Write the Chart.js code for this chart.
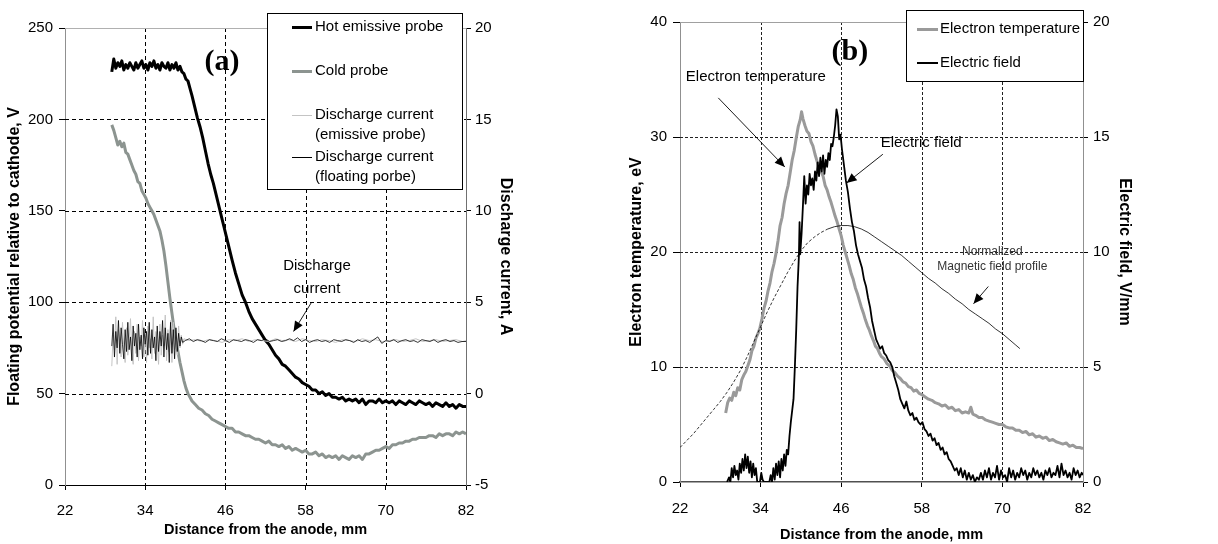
<!DOCTYPE html>
<html><head><meta charset="utf-8">
<script src="https://cdn.jsdelivr.net/npm/chart.js@4.4.1/dist/chart.umd.min.js"></script>
<style>
html,body{margin:0;padding:0;background:#fff;}
#wrap{position:relative;width:1218px;height:544px;overflow:hidden;}
.c{position:absolute;top:0;width:609px;height:544px;}
</style></head><body>
<div id="wrap">
<div class="c" style="left:0"><canvas id="ca" width="609" height="544"></canvas></div>
<div class="c" style="left:609px"><canvas id="cb" width="609" height="544"></canvas></div>
</div>
<script>
// ---------- tick labels ----------
const distTicks = [22,34,46,58,70,82];
const potentialTicks = [0,50,100,150,200,250];
const currentTicks = [-5,0,5,10,15,20];
const tempTicks = [0,10,20,30,40];
const fieldTicks = [0,5,10,15,20];

// ---------- panel (a): floating potential, V ----------
const hotProbe = [[29.0,226],[29.3,233],[29.6,228],[29.9,231],[30.2,229],[30.5,232],[30.8,227],[31.1,230],[31.4,228],[31.7,231],[32.0,229],[32.3,227],[32.6,231],[32.9,228],[33.2,230],[33.5,232],[33.8,228],[34.1,230],[34.4,227],[34.7,231],[35.0,229],[35.3,232],[35.6,228],[35.9,230],[36.2,227],[36.5,231],[36.8,229],[37.1,228],[37.4,231],[37.7,227],[38.0,230],[38.3,228],[38.6,231],[38.9,227],[39.2,229],[39.5,226],[39.8,225],[40.1,222],[40.4,221],[40.7,217],[41.0,213],
[41.4,207],[41.8,201],[42.2,196],[42.6,190],[43.0,183],[43.4,176],[43.8,170],[44.2,165],[44.6,159],[45.0,153],[45.4,147],[45.8,141],[46.2,135],[46.6,129],[47.0,123],
[47.5,116],[48.0,110],[48.5,104],[49.0,100],[49.5,95],[50.0,91],[50.5,88],[51.0,85],[51.5,82],[52.0,79],[52.5,77],[53.0,74],[53.5,71],[54.0,69],[54.5,66],[55.0,65],[55.5,63],[56.0,61],[56.5,59],[57.0,58],[57.5,56],[58.0,55],[58.5,54],[59.0,52],[59.5,52],[60.0,50],[60.5,51],[61.0,49],[61.5,50],[62.0,48],[62.5,48],[63.0,47],[63.5,48],[64.0,46],[64.5,47],[65.0,46],[65.5,47],[66.0,45],[66.5,47],[67.0,44],[67.5,46],[68.0,46],[68.5,45],[69.0,47],[69.5,45],[70.0,46],[70.5,45],[71.0,46],[71.5,44],[72.0,46],[72.5,45],[73.0,44],[73.5,46],[74.0,45],[74.5,44],[75.0,46],[75.5,45],[76.0,44],[76.5,45],[77.0,43],[77.5,45],[78.0,44],[78.5,43],[79.0,45],[79.5,43],[80.0,44],[80.5,42],[81.0,44],[81.5,43],[82.0,43]];

const coldProbe = [[29.0,197],[29.3,194],[29.6,190],[29.9,186],[30.2,188],[30.5,185],[30.8,187],[31.1,182],[31.4,181],[31.7,178],[32.0,175],[32.3,172],[32.6,170],[32.9,166],[33.2,165],[33.5,161],[33.8,159],[34.1,157],[34.4,154],[34.7,152],[35.0,150],[35.3,148],[35.6,145],[35.9,142],[36.2,139],[36.5,134],[36.8,128],[37.1,120],[37.4,111],[37.7,102],[38.0,94],[38.3,86],[38.6,79],[38.9,73],[39.2,67],[39.5,62],[39.8,57],[40.1,53],[40.4,50],[40.7,48],[41.0,46],
[41.5,44],[42.0,42],[42.5,41],[43.0,39],[43.5,38],[44.0,36],[44.5,35],[45.0,34],[45.5,33],[46.0,32],[46.5,31],[47.0,31],[47.5,29],[48.0,29],[48.5,28],[49.0,27],[49.5,27],[50.0,26],[50.5,25],[51.0,25],[51.5,24],[52.0,23],[52.5,24],[53.0,22],[53.5,22],[54.0,21],[54.5,22],[55.0,20],[55.5,21],[56.0,19],[56.5,20],[57.0,19],[57.5,18],[58.0,19],[58.5,17],[59.0,17],[59.5,18],[60.0,16],[60.5,17],[61.0,15],[61.5,16],[62.0,15],[62.5,16],[63.0,14],[63.5,16],[64.0,15],[64.5,14],[65.0,16],[65.5,15],[66.0,16],[66.5,14],[67.0,17],[67.5,17],[68.0,18],[68.5,19],[69.0,19],[69.5,20],[70.0,21],[70.5,20],[71.0,22],[71.5,22],[72.0,23],[72.5,23],[73.0,24],[73.5,24],[74.0,25],[74.5,25],[75.0,26],[75.5,26],[76.0,26],[76.5,27],[77.0,27],[77.5,26],[78.0,28],[78.5,27],[79.0,28],[79.5,28],[80.0,27],[80.5,29],[81.0,28],[81.5,29],[82.0,28]];

// discharge current, A (right axis)
const currentEmissive = [[29.0,1.5],[29.2,3.2],[29.4,2.4],[29.6,4.2],[29.8,1.6],[30.0,3.5],[30.2,2.8],[30.4,2.0],[30.6,3.9],[30.8,2.5],[31.0,1.7],[31.2,3.6],[31.4,2.1],[31.6,3.0],[31.8,4.1],[32.0,2.3],[32.2,1.6],[32.4,3.4],[32.6,2.2],[32.8,3.8],[33.0,1.8],[33.2,3.1],[33.4,2.6],[33.6,4.0],[33.8,2.0],[34.0,3.3],[34.2,1.7],[34.4,3.7],[34.6,2.5],[34.8,3.0],[35.0,1.9],[35.2,4.2],[35.4,2.2],[35.6,3.4],[35.8,2.7],[36.0,1.6],[36.2,3.8],[36.4,2.1],[36.6,3.2],[36.8,2.6],[37.0,4.3],[37.2,1.8],[37.4,3.5],[37.6,2.3],[37.8,4.0],[38.0,1.7],[38.2,3.9],[38.4,2.4],[38.6,3.3],[38.8,2.1],[39.0,3.7],[39.2,2.5],[39.4,3.2],[39.6,2.7],[39.8,3.0],
[40.5,2.9],[41.5,2.95],[42.5,2.85],[43.5,2.95],[44.5,2.9],[45.5,2.8],[46.5,2.95],[47.5,2.9],[48.5,3.0],[49.5,2.85],[50.5,2.95],[51.5,2.9],[52.5,2.85],[53.5,3.0],[54.5,2.9],[55.5,2.95],[56.5,2.85],[57.5,3.0],[58.5,2.9],[59.5,2.85],[60.5,2.95],[61.5,2.9],[62.5,2.8],[63.5,2.95],[64.5,2.9],[65.5,2.85],[66.5,3.0],[67.5,2.9],[68.5,2.95],[69.5,2.85],[70.5,2.9],[71.5,2.95],[72.5,2.85],[73.5,2.9],[74.5,3.0],[75.5,2.85],[76.5,2.9],[77.5,2.95],[78.5,2.85],[79.5,2.9],[80.5,2.95],[81.5,2.85],[82.0,2.9]];

const currentFloating = [[29.0,2.6],[29.2,3.8],[29.4,2.0],[29.6,3.4],[29.8,2.5],[30.0,4.0],[30.2,2.2],[30.4,3.6],[30.6,2.7],[30.8,1.9],[31.0,3.5],[31.2,2.3],[31.4,3.9],[31.6,2.4],[31.8,3.1],[32.0,1.8],[32.2,3.7],[32.4,2.6],[32.6,3.3],[32.8,2.0],[33.0,3.8],[33.2,2.4],[33.4,3.2],[33.6,1.9],[33.8,3.6],[34.0,2.7],[34.2,3.4],[34.4,2.1],[34.6,3.9],[34.8,2.2],[35.0,3.5],[35.2,2.5],[35.4,3.1],[35.6,1.8],[35.8,3.7],[36.0,2.3],[36.2,3.4],[36.4,2.6],[36.6,4.0],[36.8,2.0],[37.0,3.6],[37.2,2.4],[37.4,3.3],[37.6,1.7],[37.8,3.9],[38.0,2.2],[38.2,3.5],[38.4,1.9],[38.6,3.6],[38.8,2.3],[39.0,3.3],[39.2,2.6],[39.4,3.1],[39.6,2.8],
[40.0,2.9],[40.6,3.0],[41.2,2.85],[41.8,2.95],[42.4,2.9],[43.0,2.8],[43.6,2.95],[44.2,2.9],[44.8,2.85],[45.4,3.0],[46.0,2.9],[46.6,2.8],[47.2,2.95],[47.8,2.9],[48.4,2.85],[49.0,2.95],[49.6,2.9],[50.2,2.8],[50.8,2.95],[51.4,2.9],[52.0,3.0],[52.6,2.85],[53.2,2.9],[53.8,2.95],[54.4,2.85],[55.0,2.9],[55.6,3.0],[56.2,2.9],[56.8,3.05],[57.4,2.85],[58.0,2.95],[58.6,2.8],[59.2,2.9],[59.8,2.95],[60.4,2.85],[61.0,2.9],[61.6,2.8],[62.2,2.95],[62.8,2.9],[63.4,2.85],[64.0,2.95],[64.6,2.9],[65.2,2.8],[65.8,2.95],[66.4,2.85],[67.0,2.9],[67.6,2.8],[68.2,2.95],[68.8,3.1],[69.4,2.75],[70.0,2.9],[70.6,2.85],[71.2,2.95],[71.8,2.8],[72.4,2.9],[73.0,2.95],[73.6,2.85],[74.2,2.9],[74.8,2.8],[75.4,2.95],[76.0,2.9],[76.6,2.85],[77.2,2.95],[77.8,2.8],[78.4,2.9],[79.0,2.95],[79.6,2.85],[80.2,2.9],[80.8,2.8],[81.4,2.85],[82.0,2.85]];

// ---------- panel (b) ----------
const electronTemp = [[28.8,6.0],[29.1,6.9],[29.4,7.3],[29.7,7.1],[30.0,7.8],[30.3,7.5],[30.6,8.2],[30.9,8.0],[31.2,8.9],[31.5,9.3],[31.8,9.6],[32.1,10.1],[32.4,10.6],[32.7,11.4],[33.0,11.8],[33.3,12.5],[33.6,12.9],[33.9,13.4],[34.2,14.2],[34.5,15.1],[34.8,15.7],[35.1,16.6],[35.4,17.3],[35.7,18.3],[36.0,19.0],[36.3,19.9],[36.6,21.0],[36.9,22.3],[37.2,23.0],[37.5,24.2],[37.8,25.1],[38.1,25.8],[38.4,26.9],[38.7,28.0],[39.0,28.8],[39.3,29.9],[39.6,30.9],[39.9,31.5],[40.1,32.2],[40.3,31.6],[40.6,31.0],[40.9,30.5],[41.2,30.3],[41.5,29.6],[41.8,29.2],[42.1,28.5],[42.4,27.9],[42.7,27.3],[43.0,27.0],[43.3,26.6],[43.6,25.8],[43.9,25.4],[44.2,24.8],[44.5,24.3],[44.8,23.7],[45.1,23.1],[45.4,22.6],[45.7,22.0],[46.0,21.4],[46.3,20.6],[46.6,20.0],[46.9,19.4],[47.2,18.8],[47.5,18.1],[47.8,17.6],[48.1,16.9],[48.4,16.4],[48.7,15.8],[49.0,15.2],[49.3,14.7],[49.6,14.1],[49.9,13.6],[50.2,13.2],[50.5,12.7],[50.8,12.3],[51.1,11.8],[51.4,11.6],[51.7,11.2],[52.0,10.9],[52.4,10.7],[52.8,10.3],[53.2,10.1],[53.6,9.7],[54.0,9.5],[54.4,9.2],[54.8,9.0],[55.2,8.7],[55.6,8.6],[56.0,8.3],[56.4,8.2],[56.8,7.9],[57.2,8.0],[57.6,7.7],[58.0,7.6],[58.5,7.4],[59.0,7.2],[59.5,7.1],[60.0,6.9],[60.5,6.8],[61.0,6.6],[61.5,6.7],[62.0,6.4],[62.5,6.5],[63.0,6.2],[63.5,6.3],[64.0,6.0],[64.5,6.1],[65.0,6.0],[65.3,6.5],[65.6,5.9],[66.0,5.8],[66.5,5.6],[67.0,5.6],[67.5,5.4],[68.0,5.3],[68.5,5.2],[69.0,5.1],[69.5,5.0],[70.0,5.0],[70.5,4.8],[71.0,4.7],[71.5,4.7],[72.0,4.5],[72.5,4.5],[73.0,4.3],[73.5,4.4],[74.0,4.1],[74.5,4.2],[75.0,3.9],[75.5,4.0],[76.0,3.8],[76.5,3.9],[77.0,3.6],[77.5,3.7],[78.0,3.5],[78.5,3.4],[79.0,3.3],[79.5,3.4],[80.0,3.1],[80.5,3.2],[81.0,3.0],[81.5,3.0],[82.0,2.9]];

const electricField = [[29.0,0],[29.3,0.2],[29.5,0],[29.7,0.6],[29.9,0.2],[30.1,0.7],[30.3,0.3],[30.5,0.5],[30.7,0.1],[30.9,0.8],[31.1,0.4],[31.3,1.0],[31.5,0.5],[31.7,1.2],[31.9,0.6],[32.1,1.1],[32.3,0.4],[32.5,0.9],[32.7,0.2],[32.9,0.8],[33.1,0.3],[33.3,0.6],[33.5,0],[33.9,0],[34.1,0.4],[34.3,0.1],[34.5,0],[35.3,0],[35.5,0.3],[35.7,0],[35.9,0.6],[36.1,0.1],[36.3,0.8],[36.5,0.3],[36.7,0.9],[36.9,0.2],[37.1,1.0],[37.3,0.5],[37.5,1.2],[37.7,0.7],[37.9,1.4],[38.1,1.2],[38.3,2.0],[38.5,2.6],[38.7,3.1],[38.9,3.6],[39.1,5.0],[39.3,6.6],[39.5,8.5],[39.7,9.8],[39.8,11.3],[39.9,9.9],[40.1,10.8],[40.3,12.0],[40.5,13.3],[40.7,12.1],[40.9,12.9],[41.1,12.5],[41.3,13.4],[41.5,12.9],[41.7,13.2],[41.9,12.7],[42.1,13.5],[42.3,13.1],[42.5,13.9],[42.7,13.3],[42.9,14.1],[43.1,13.5],[43.3,14.2],[43.5,13.4],[43.7,14.0],[43.9,13.7],[44.1,14.3],[44.3,14.0],[44.5,14.7],[44.7,14.6],[44.9,15.0],[45.1,15.5],[45.3,16.2],[45.5,15.9],[45.7,14.9],[45.9,15.1],[46.1,14.5],[46.4,13.8],[46.7,13.1],[47.0,12.6],[47.3,11.9],[47.6,11.3],[47.9,10.9],[48.2,10.3],[48.5,9.9],[48.8,9.6],[49.1,9.3],[49.4,8.8],[49.7,8.5],[50.0,8.0],[50.3,7.6],[50.6,7.0],[50.9,6.6],[51.2,6.2],[51.5,6.0],[51.8,5.8],[52.1,5.9],[52.4,5.6],[52.7,5.5],[53.0,5.3],[53.3,5.2],[53.6,5.0],[53.9,4.6],[54.2,4.3],[54.5,4.0],[54.8,3.6],[55.1,3.4],[55.4,3.2],[55.7,3.5],[56.0,3.1],[56.3,2.9],[56.6,3.0],[56.9,2.7],[57.2,2.8],[57.5,2.6],[57.8,2.5],[58.1,2.6],[58.4,2.3],[58.7,2.2],[59.0,2.0],[59.3,2.1],[59.6,1.8],[59.9,1.9],[60.2,1.6],[60.5,1.7],[60.8,1.4],[61.1,1.5],[61.4,1.2],[61.7,1.3],[62.0,1.0],[62.3,0.9],[62.6,0.7],[62.9,0.5],[63.2,0.6],[63.5,0.3],[63.8,0.6],[64.1,0.2],[64.4,0.5],[64.7,0.1],[65.0,0.4],[65.3,0.1],[65.6,0.3],[65.9,0.0],[66.2,0.2],[66.5,0.1],[66.8,0.4],[67.1,0.1],[67.4,0.5],[67.7,0.2],[68.0,0.6],[68.3,0.1],[68.6,0.4],[68.9,0.2],[69.2,0.7],[69.5,0.1],[69.8,0.5],[70.1,0.2],[70.4,0.3],[70.7,0.0],[71.0,0.6],[71.3,0.2],[71.6,0.5],[71.9,0.1],[72.2,0.4],[72.5,0.2],[72.8,0.6],[73.1,0.3],[73.4,0.5],[73.7,0.1],[74.0,0.4],[74.3,0.2],[74.6,0.6],[74.9,0.3],[75.2,0.5],[75.5,0.2],[75.8,0.4],[76.1,0.1],[76.4,0.5],[76.7,0.3],[77.0,0.6],[77.3,0.2],[77.6,0.4],[77.9,0.3],[78.2,0.7],[78.5,0.2],[78.8,0.8],[79.1,0.3],[79.4,0.5],[79.7,0.2],[80.0,0.4],[80.3,0.1],[80.6,0.6],[80.9,0.3],[81.2,0.5],[81.5,0.2],[81.8,0.4],[82.0,0.3]];

// normalized magnetic field profile (in eV axis units)
const magneticProfile = [[22,3.0],[23,3.6],[24,4.2],[25,4.9],[26,5.6],[27,6.3],[28,7.0],[29,7.8],[30,8.7],[31,9.7],[32,10.9],[33,12.2],[34,13.5],[35,14.8],[36,16.0],[37,17.1],[38,18.2],[39,19.2],[40,20.1],[41,20.8],[42,21.3],[43,21.7],[44,22.0],[45,22.2],[46,22.3],[47,22.3],[48,22.2],[49,22.0],[50,21.7],[51,21.3],[52,20.9],[53,20.5],[54,20.1],[55,19.7],[56,19.2],[57,18.7],[58,18.2],[59,17.7],[60,17.3],[61,16.8],[62,16.4],[63,15.9],[64,15.5],[65,15.0],[66,14.6],[67,14.2],[68,13.8],[69,13.3],[70,12.9],[71,12.4],[72,11.9],[72.6,11.6]];

// ---------- helpers ----------
const pts = arr => arr.map(p => ({x:p[0], y:p[1]}));
const FONT = "'Liberation Sans', Arial, sans-serif";
Chart.defaults.font.family = FONT;
Chart.defaults.color = '#000';

const gridPlugin = {
  id:'dashGrid',
  beforeDatasetsDraw(chart, args, o){
    const {ctx, chartArea:a, scales} = chart;
    const xs = scales.x, ys = scales.y;
    ctx.save();
    ctx.lineWidth = 1; ctx.strokeStyle = o.color; ctx.setLineDash(o.dash);
    xs.ticks.forEach(t => {
      if (t.value > xs.min && t.value < xs.max) {
        const px = Math.round(xs.getPixelForValue(t.value)) + 0.5;
        ctx.beginPath(); ctx.moveTo(px, a.top); ctx.lineTo(px, a.bottom); ctx.stroke();
      }
    });
    ys.ticks.forEach(t => {
      if (t.value > ys.min && t.value < ys.max) {
        const py = Math.round(ys.getPixelForValue(t.value)) + 0.5;
        ctx.beginPath(); ctx.moveTo(a.left, py); ctx.lineTo(a.right, py); ctx.stroke();
      }
    });
    ctx.setLineDash([]);
    ctx.strokeStyle = o.topColor;
    const pt = Math.round(ys.getPixelForValue(ys.max)) + 0.5;
    ctx.beginPath(); ctx.moveTo(a.left, pt); ctx.lineTo(a.right, pt); ctx.stroke();
    ctx.restore();
  }
};

function arrow(ctx, x1, y1, x2, y2, h){
  ctx.beginPath(); ctx.moveTo(x1,y1); ctx.lineTo(x2,y2); ctx.stroke();
  const ang = Math.atan2(y2-y1, x2-x1), c = Math.cos(ang), s = Math.sin(ang), w = h*0.45;
  ctx.beginPath(); ctx.moveTo(x2,y2);
  ctx.lineTo(x2 - h*c + w*s, y2 - h*s - w*c);
  ctx.lineTo(x2 - h*c - w*s, y2 - h*s + w*c);
  ctx.closePath(); ctx.fill();
}

const notesPlugin = {
  id:'notes',
  afterDraw(chart, args, o){
    const {ctx, scales} = chart;
    ctx.save();
    (o.texts||[]).forEach(t => {
      const ys = scales[t.axis||'y'];
      ctx.font = t.font; ctx.fillStyle = t.color||'#000';
      ctx.textAlign = 'center'; ctx.textBaseline = 'middle';
      ctx.fillText(t.text, scales.x.getPixelForValue(t.x), ys.getPixelForValue(t.y));
    });
    (o.arrows||[]).forEach(r => {
      const ys = scales[r.axis||'y'];
      ctx.strokeStyle = '#000'; ctx.fillStyle = '#000'; ctx.lineWidth = 0.9;
      arrow(ctx, scales.x.getPixelForValue(r.x1), ys.getPixelForValue(r.y1),
                 scales.x.getPixelForValue(r.x2), ys.getPixelForValue(r.y2), 10);
    });
    const L = o.legend;
    if (L){
      const [bx,by,bw,bh] = L.box;
      ctx.fillStyle = '#fff'; ctx.fillRect(bx,by,bw,bh);
      ctx.strokeStyle = '#000'; ctx.lineWidth = 1;
      ctx.strokeRect(bx+0.5, by+0.5, bw, bh);
      ctx.font = L.font; ctx.textAlign = 'left'; ctx.textBaseline = 'middle'; ctx.fillStyle = '#000';
      chart.data.datasets.forEach((ds, i) => {
        const it = L.items[i]; if (!it) return;
        const lw = Math.max(1, Math.round(ds.borderWidth));
        const ly = it.y + (lw % 2 ? 0.5 : 0);
        ctx.strokeStyle = ds.borderColor; ctx.lineWidth = lw;
        ctx.beginPath(); ctx.moveTo(L.x0, ly); ctx.lineTo(L.x1, ly); ctx.stroke();
        ctx.fillStyle = '#000';
        const lines = ds.label.split('\n');
        lines.forEach((ln, k) => ctx.fillText(ln, L.tx, it.y + k*L.lh));
      });
    }
    ctx.restore();
  }
};

function fixedTicks(list){ return s => { s.ticks = list.map(v => ({value:v})); }; }

// ---------- chart (a) ----------
new Chart(document.getElementById('ca'), {
  type:'line',
  data:{ datasets:[
    {label:'Hot emissive probe', data:pts(hotProbe), yAxisID:'y', borderColor:'#000', borderWidth:3, order:2},
    {label:'Cold probe', data:pts(coldProbe), yAxisID:'y', borderColor:'#8c9490', borderWidth:3, order:3},
    {label:'Discharge current\n(emissive probe)', data:pts(currentEmissive), yAxisID:'y1', borderColor:'#c4c4c4', borderWidth:1, order:1},
    {label:'Discharge current\n(floating porbe)', data:pts(currentFloating), yAxisID:'y1', borderColor:'#000', borderWidth:0.8, order:0}
  ]},
  options:{
    responsive:false, animation:false,
    layout:{padding:{left:0, right:92, top:28, bottom:0}},
    elements:{point:{radius:0}, line:{tension:0, borderJoinStyle:'round'}},
    plugins:{ legend:{display:false}, tooltip:{enabled:false},
      dashGrid:{color:'#000', dash:[4,3], topColor:'#b0b0b0'},
      notes:{
        texts:[
          {text:'(a)', x:45.5, y:231, font:"bold 30px 'Liberation Serif', serif"},
          {text:'Discharge', x:59.7, y:120, font:"15px "+FONT},
          {text:'current', x:59.7, y:107.5, font:"15px "+FONT}
        ],
        arrows:[{x1:58.9, y1:100, x2:56.2, y2:84}],
        legend:{box:[267,13,195,176], x0:292, x1:312, tx:315, lh:20, font:"15px "+FONT,
          items:[{y:27},{y:71},{y:115},{y:157}]}
      }
    },
    scales:{
      x:{type:'linear', min:22, max:82, afterBuildTicks:fixedTicks(distTicks),
         afterFit:s=>{s.height=59;},
         ticks:{font:{size:15}, padding:12, maxRotation:0, autoSkip:false},
         grid:{drawOnChartArea:false, tickLength:5, color:'#000'},
         border:{color:'#000', width:1},
         title:{display:true, text:'Distance from the anode, mm', font:{size:14.5, weight:'bold'}, padding:{top:0,bottom:5}}},
      y:{position:'left', min:0, max:250, afterBuildTicks:fixedTicks(potentialTicks),
         afterFit:s=>{s.width=65;},
         ticks:{font:{size:15}, padding:6},
         grid:{drawOnChartArea:false, tickLength:6, color:'#000'},
         border:{color:'#909090', width:1},
         title:{display:true, text:'Floating potential relative to cathode, V', font:{size:16, weight:'bold'}, padding:{top:5,bottom:0}}},
      y1:{position:'right', min:-5, max:20, afterBuildTicks:fixedTicks(currentTicks),
         afterFit:s=>{s.width=51;},
         ticks:{font:{size:15}, padding:4},
         grid:{drawOnChartArea:false, tickLength:5, color:'#000'},
         border:{color:'#707070', width:1},
         title:{display:true, text:'Discharge current, A', font:{size:16, weight:'bold'}, padding:{top:2,bottom:0}}}
    }
  },
  plugins:[gridPlugin, notesPlugin]
});

// ---------- chart (b) ----------
new Chart(document.getElementById('cb'), {
  type:'line',
  data:{ datasets:[
    {label:'Electron temperature', data:pts(electronTemp), yAxisID:'y', borderColor:'#9a9a9a', borderWidth:3, order:2},
    {label:'Electric field', data:pts(electricField), yAxisID:'y1', borderColor:'#000', borderWidth:1.8, order:0},
    {label:'', data:pts(magneticProfile), yAxisID:'y', borderColor:'#000', borderWidth:0.8, order:1,
     segment:{borderDash: c => c.p1.parsed.x <= 44 ? [3,2] : []}}
  ]},
  options:{
    responsive:false, animation:false,
    layout:{padding:{left:12, right:81, top:22, bottom:0}},
    elements:{point:{radius:0}, line:{tension:0, borderJoinStyle:'round'}},
    plugins:{ legend:{display:false}, tooltip:{enabled:false},
      dashGrid:{color:'#222', dash:[3,2], topColor:'#a0a0a0'},
      notes:{
        texts:[
          {text:'(b)', x:47.3, y:37.4, font:"bold 30px 'Liberation Serif', serif"},
          {text:'Electron temperature', x:33.3, y:35.2, font:"15px "+FONT},
          {text:'Electric field', x:57.9, y:29.5, font:"15px "+FONT},
          {text:'Normalized', x:68.5, y:20.0, font:"12px "+FONT, color:'#333'},
          {text:'Magnetic field profile', x:68.5, y:18.7, font:"12px "+FONT, color:'#333'}
        ],
        arrows:[
          {x1:27.7, y1:33.4, x2:37.6, y2:27.4},
          {x1:52.2, y1:28.5, x2:46.8, y2:26.0},
          {x1:67.9, y1:17.0, x2:65.7, y2:15.5}
        ],
        legend:{box:[297,10,177,71], x0:308, x1:329, tx:331, lh:20, font:"15px "+FONT,
          items:[{y:29},{y:63}]}
      }
    },
    scales:{
      x:{type:'linear', min:22, max:82, afterBuildTicks:fixedTicks(distTicks),
         afterFit:s=>{s.height=62;},
         ticks:{font:{size:15}, padding:13, maxRotation:0, autoSkip:false},
         grid:{drawOnChartArea:false, tickLength:5, color:'#000'},
         border:{color:'#505050', width:1.5},
         title:{display:true, text:'Distance from the anode, mm', font:{size:14.5, weight:'bold'}, padding:{top:0,bottom:0}}},
      y:{position:'left', min:0, max:40, afterBuildTicks:fixedTicks(tempTicks),
         afterFit:s=>{s.width=59;},
         ticks:{font:{size:15}, padding:6},
         grid:{drawOnChartArea:false, tickLength:7, color:'#000'},
         border:{color:'#909090', width:1},
         title:{display:true, text:'Electron temperature, eV', font:{size:16, weight:'bold'}, padding:{top:6,bottom:0}}},
      y1:{position:'right', min:0, max:20, afterBuildTicks:fixedTicks(fieldTicks),
         afterFit:s=>{s.width=54;},
         ticks:{font:{size:15}, padding:5},
         grid:{drawOnChartArea:false, tickLength:5, color:'#000'},
         border:{color:'#909090', width:1},
         title:{display:true, text:'Electric field, V/mm', font:{size:16, weight:'bold'}, padding:{top:3,bottom:0}}}
    }
  },
  plugins:[gridPlugin, notesPlugin]
});
</script>
</body></html>
